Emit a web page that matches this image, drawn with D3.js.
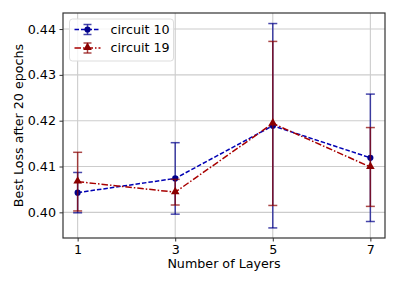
<!DOCTYPE html>
<html>
<head>
<meta charset="utf-8">
<script src="https://cdn.jsdelivr.net/npm/d3@7"></script>
<style>
  body { margin: 0; background: #fff; }
  svg { font-family: "DejaVu Sans", sans-serif; }
</style>
</head>
<body>
<div id="chart"></div>
<script>
// values
const layers = [1, 3, 5, 7];
const xTicks = [1, 3, 5, 7];
const yTicks = [0.40, 0.41, 0.42, 0.43, 0.44];

const circuit10 = [0.4043, 0.4074, 0.4189, 0.4119];
const circuit10Err = [0.0044, 0.0078, 0.0223, 0.0139];
const circuit19 = [0.4067, 0.4044, 0.4194, 0.4099];
const circuit19Err = [0.0064, 0.0028, 0.0179, 0.0086];

const series = [
  { name: 'circuit 10', values: circuit10, err: circuit10Err, color: '#00008b', line: '#0000b4', dash: '4.5,2', marker: 'circle' },
  { name: 'circuit 19', values: circuit19, err: circuit19Err, color: '#8b0000', line: '#a80000', dash: '6.5,2,1.5,2', marker: 'triangle' }
];

const fontSize = '12.7px';
const width = 399, height = 285;
const margin = { top: 13, right: 14, bottom: 47, left: 63 };

const svg = d3.select('#chart').append('svg')
  .attr('width', width)
  .attr('height', height);

const x = d3.scaleLinear().domain([0.7, 7.3]).range([margin.left, width - margin.right]);
const y = d3.scaleLinear().domain([0.3944, 0.4435]).range([height - margin.bottom, margin.top]);

// grid
const grid = svg.append('g');
grid.selectAll('.gx').data(xTicks).enter().append('line')
  .attr('x1', d => x(d)).attr('x2', d => x(d))
  .attr('y1', margin.top).attr('y2', height - margin.bottom)
  .attr('stroke', '#cccccc').attr('stroke-width', 1.1);
grid.selectAll('.gy').data(yTicks).enter().append('line')
  .attr('x1', margin.left).attr('x2', width - margin.right)
  .attr('y1', d => y(d)).attr('y2', d => y(d))
  .attr('stroke', '#cccccc').attr('stroke-width', 1.1);

// axes
const xAxis = svg.append('g')
  .attr('transform', `translate(0,${height - margin.bottom})`)
  .call(d3.axisBottom(x).tickValues(xTicks).tickSize(3.5).tickPadding(3).tickFormat(d3.format('d')));
const yAxis = svg.append('g')
  .attr('transform', `translate(${margin.left},0)`)
  .call(d3.axisLeft(y).tickValues(yTicks).tickSize(3.5).tickPadding(3.5).tickFormat(d3.format('.2f')));
[xAxis, yAxis].forEach(a => {
  a.select('.domain').remove();
  a.selectAll('.tick line').attr('stroke', '#333');
  a.selectAll('.tick text').attr('fill', '#000').style('font-size', fontSize).style('font-family', '"DejaVu Sans", sans-serif');
});

// frame
svg.append('rect')
  .attr('x', margin.left).attr('y', margin.top)
  .attr('width', width - margin.left - margin.right)
  .attr('height', height - margin.top - margin.bottom)
  .attr('fill', 'none').attr('stroke', '#333').attr('stroke-width', 1.2);

const line = d3.line().x(d => x(d[0])).y(d => y(d[1]));
const triangle = d3.symbol().type(d3.symbolTriangle).size(32);

function drawMarker(g, s, cx, cy) {
  if (s.marker === 'circle') {
    g.append('circle').attr('cx', cx).attr('cy', cy).attr('r', 3.1).attr('fill', s.color);
  } else {
    g.append('path').attr('d', triangle).attr('transform', `translate(${cx},${cy - 0.5})`).attr('fill', s.color);
  }
}

series.forEach(s => {
  const g = svg.append('g');
  const pts = layers.map((l, i) => [l, s.values[i]]);
  g.append('path')
    .attr('d', line(pts))
    .attr('fill', 'none')
    .attr('stroke', s.line)
    .attr('stroke-width', 1.5)
    .attr('stroke-dasharray', s.dash);
  // error bars
  layers.forEach((l, i) => {
    const lo = y(s.values[i] - s.err[i]), hi = y(s.values[i] + s.err[i]);
    const eb = g.append('g').attr('stroke', s.color).attr('stroke-opacity', 0.72).attr('stroke-width', 1.5);
    eb.append('line').attr('x1', x(l)).attr('x2', x(l)).attr('y1', lo).attr('y2', hi);
    eb.append('line').attr('x1', x(l) - 4.5).attr('x2', x(l) + 4.5).attr('y1', lo).attr('y2', lo);
    eb.append('line').attr('x1', x(l) - 4.5).attr('x2', x(l) + 4.5).attr('y1', hi).attr('y2', hi);
  });
  pts.forEach(p => drawMarker(g, s, x(p[0]), y(p[1])));
});

// legend
const legend = svg.append('g').attr('transform', `translate(${margin.left + 6.5},${margin.top + 6})`);
legend.append('rect')
  .attr('width', 104).attr('height', 42).attr('rx', 3)
  .attr('fill', '#fff').attr('fill-opacity', 0.8)
  .attr('stroke', '#ddd');
series.forEach((s, i) => {
  const ly = 10.5 + i * 18.5;
  const lg = legend.append('g');
  lg.append('line').attr('x1', 5).attr('x2', 31).attr('y1', ly).attr('y2', ly)
    .attr('stroke', s.line).attr('stroke-width', 1.5).attr('stroke-dasharray', s.dash);
  const eb = lg.append('g').attr('stroke', s.color).attr('stroke-opacity', 0.72).attr('stroke-width', 1.5);
  eb.append('line').attr('x1', 18).attr('x2', 18).attr('y1', ly - 5).attr('y2', ly + 5);
  eb.append('line').attr('x1', 14).attr('x2', 22).attr('y1', ly - 5).attr('y2', ly - 5);
  eb.append('line').attr('x1', 14).attr('x2', 22).attr('y1', ly + 5).attr('y2', ly + 5);
  drawMarker(lg, s, 18, ly);
  lg.append('text').attr('x', 41).attr('y', ly).attr('dy', '0.35em')
    .style('font-size', fontSize).text(s.name);
});

// axis labels
svg.append('text')
  .attr('x', (margin.left + width - margin.right) / 2)
  .attr('y', 267.5)
  .attr('text-anchor', 'middle')
  .style('font-size', fontSize)
  .text('Number of Layers');
svg.append('text')
  .attr('transform', `translate(19,${(margin.top + height - margin.bottom) / 2}) rotate(-90)`)
  .attr('text-anchor', 'middle')
  .attr('dy', '0.35em')
  .style('font-size', fontSize)
  .text('Best Loss after 20 epochs');
</script>
</body>
</html>
